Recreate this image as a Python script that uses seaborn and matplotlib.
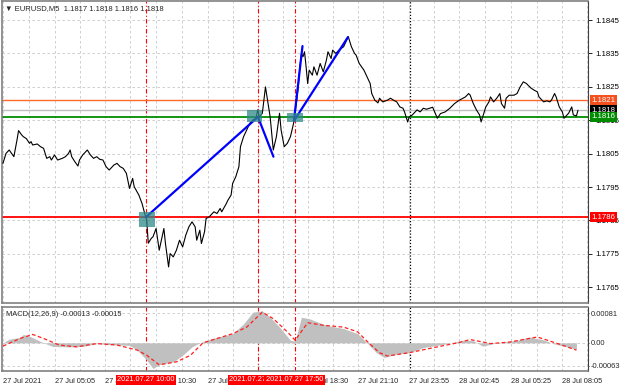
import matplotlib
matplotlib.use("Agg")
import matplotlib.pyplot as plt
from matplotlib.patches import Rectangle
from matplotlib.transforms import blended_transform_factory
import pandas as pd
import seaborn as sns

# EURUSD M5 closes (x = bar number from the left edge)
bars = [0, 2, 4, 7, 9, 10, 12, 13, 15, 17,
        18, 19, 22, 24, 26, 28, 30, 31, 33, 35,
        38, 40, 42, 43, 44, 46, 48, 49, 51, 54,
        56, 58, 60, 62, 64, 66, 68, 71, 73, 75,
        77, 79, 81, 83, 84, 87, 89, 91, 92, 93,
        95, 96, 98, 100, 103, 104, 106, 107, 109, 111,
        113, 115, 117, 119, 121, 123, 124, 126, 127, 129,
        130, 132, 135, 137, 139, 140, 143, 144, 146, 147,
        149, 151, 152, 154, 156, 158, 160, 162, 163, 164,
        166, 168, 169, 171, 173, 175, 177, 178, 180, 182,
        184, 185, 186, 188, 189, 190, 191, 192, 193, 194,
        195, 196, 198, 199, 201, 203, 205, 207, 208, 210,
        211, 213, 215, 218, 220, 221, 223, 225, 226, 228,
        231, 233, 235, 236, 238, 240, 241, 243, 246, 248,
        250, 252, 254, 256, 257, 259, 260, 262, 265, 267,
        269, 271, 273, 275, 278, 280, 283, 286, 289, 292,
        296, 298, 299, 301, 303, 305, 306, 307, 309, 311,
        312, 314, 316, 318, 319, 321, 322, 324, 327, 329,
        331, 333, 335, 336, 338, 340, 342, 343, 345, 346,
        348, 350, 351, 353, 354, 356, 358, 359, 361, 362,
        364, 365, 367, 368]
close = [1.18021, 1.18051, 1.18061, 1.18041, 1.18091, 1.18119, 1.18106, 1.18101, 1.18095, 1.18081,
         1.18086, 1.18076, 1.18079, 1.18071, 1.18066, 1.18036, 1.18041, 1.18031, 1.18046, 1.18031,
         1.18036, 1.18041, 1.18051, 1.18061, 1.18041, 1.18026, 1.18013, 1.18031, 1.18046, 1.18061,
         1.18046, 1.18036, 1.18041, 1.18033, 1.18031, 1.18011, 1.18001, 1.18016, 1.18021, 1.18011,
         1.18006, 1.17991, 1.17946, 1.17976, 1.17951, 1.17926, 1.17901, 1.17866, 1.17851, 1.17782,
         1.17797, 1.17801, 1.17826, 1.17761, 1.17826, 1.17781, 1.17711, 1.17751, 1.17741, 1.17761,
         1.17791, 1.17771, 1.17806, 1.17831, 1.17846, 1.17831, 1.17791, 1.17821, 1.17781, 1.17816,
         1.17856, 1.17861, 1.17876, 1.17871, 1.17886, 1.17876, 1.17901, 1.17911, 1.17926, 1.17961,
         1.17981, 1.18011, 1.18071, 1.18101, 1.18121, 1.18141, 1.18151, 1.18156, 1.18181, 1.18160,
         1.18171, 1.18250, 1.18220, 1.18160, 1.18061, 1.18101, 1.18171, 1.18121, 1.18071, 1.18081,
         1.18101, 1.18121, 1.18141, 1.18210, 1.18250, 1.18310, 1.18350, 1.18340, 1.18355, 1.18310,
         1.18260, 1.18300, 1.18285, 1.18310, 1.18285, 1.18320, 1.18295, 1.18330, 1.18355, 1.18335,
         1.18360, 1.18350, 1.18360, 1.18370, 1.18390, 1.18400, 1.18370, 1.18350, 1.18345, 1.18320,
         1.18300, 1.18280, 1.18260, 1.18230, 1.18210, 1.18202, 1.18216, 1.18205, 1.18210, 1.18216,
         1.18210, 1.18205, 1.18190, 1.18186, 1.18175, 1.18145, 1.18160, 1.18166, 1.18181, 1.18175,
         1.18186, 1.18183, 1.18186, 1.18189, 1.18156, 1.18170, 1.18175, 1.18186, 1.18200, 1.18210,
         1.18220, 1.18230, 1.18225, 1.18200, 1.18181, 1.18166, 1.18145, 1.18160, 1.18190, 1.18205,
         1.18220, 1.18205, 1.18216, 1.18230, 1.18200, 1.18186, 1.18216, 1.18225, 1.18225, 1.18230,
         1.18250, 1.18265, 1.18260, 1.18255, 1.18246, 1.18240, 1.18235, 1.18220, 1.18210, 1.18205,
         1.18208, 1.18205, 1.18210, 1.18230, 1.18220, 1.18190, 1.18175, 1.18156, 1.18166, 1.18171,
         1.18190, 1.18166, 1.18163, 1.18180]

# MACD(12,26,9) histogram and signal line
hist_bars = [0, 4, 11, 13, 17, 26, 32, 43, 51, 60, 68, 81, 86, 92, 96, 100, 109, 115, 121, 126,
             134, 147, 154, 160, 166, 171, 177, 184, 187, 191, 196, 207, 218, 227, 233, 239, 244,
             252, 260, 269, 282, 294, 301, 307, 316, 329, 337, 346, 352, 361, 367]
hist_vals = [0.0, 0.0001, 0.00015, 0.00023, 0.00018, 0.0, -0.0001, -0.00011, -0.0001, -0.00002,
             -0.00005, -0.00007, -0.0002, -0.00047, -0.0007, -0.0006, -0.00052, -0.00034, -0.00011, 0.0,
             0.00012, 0.00025, 0.00052, 0.00084, 0.00087, 0.0007, 0.00043, 0.00007, 0.00005, 0.0007,
             0.00066, 0.00048, 0.00039, 0.00025, 0.0, -0.00027, -0.0004, -0.00031, -0.00027, -0.00013,
             -0.00004, 0.00007, 0.00006, -0.00009, 0.0, 0.00007, 0.00016, 0.00008, -0.00002, -0.00011,
             -0.00018]
sig_bars = [0, 11, 19, 26, 36, 47, 60, 73, 86, 92, 100, 111, 120, 128, 147, 156, 166, 173, 182, 187,
            195, 205, 218, 227, 234, 241, 246, 260, 278, 291, 299, 312, 324, 342, 355, 367]
sig_vals = [-0.00009, 0.00012, 0.00023, 0.00012, -0.00006, -0.00011, -0.00002, -0.00006, -0.0002, -0.00034,
            -0.0006, -0.00052, -0.00034, 0.0, 0.00025, 0.00043, 0.00084, 0.00066, 0.0003, 0.00007,
            0.00055, 0.00048, 0.00043, 0.0003, 0.0, -0.00027, -0.00036, -0.00027, -0.00011, 0.0,
            0.00009, -0.00002, 0.00002, 0.00016, -0.00002, -0.0002]

time_ticks = [0, 33, 65, 98, 131, 163, 195, 227, 260, 292, 325, 358]
time_labels = ["27 Jul 2021", "27 Jul 05:05", "27 Jul 07:45", "27 Jul 10:30", "27 Jul 13:10",
               "27 Jul 15:50", "27 Jul 18:30", "27 Jul 21:10", "27 Jul 23:55", "28 Jul 02:45",
               "28 Jul 05:25", "28 Jul 08:05"]
price_ticks = [1.1765, 1.1775, 1.1785, 1.1795, 1.1805, 1.1815, 1.1825, 1.1835, 1.1845]

level_prices = [1.1821, 1.1818, 1.1816, 1.1786]
level_colors = ["#ff6a2a", "#c0c0c0", "#008c00", "#ff0000"]
label_colors = ["#f4511e", "#000000", "#008c00", "#ff0000"]

event_bars = [91.5, 163.2, 186.6]
event_times = ["2021.07.27 10:00", "2021.07.27 16:00", "2021.07.27 17:50"]
separator_bar = 260.5

trend_x = [[91.5, 163.2], [163.2, 173.1], [186.2, 191.7], [186.2, 220.8]]
trend_y = [[1.1786, 1.1816], [1.1816, 1.18041], [1.18148, 1.18372], [1.18148, 1.18399]]
box_x = [92.2, 161.3, 186.9]
box_y = [1.17854, 1.18163, 1.18158]
box_w = [10.2, 9.6, 10.2]
box_h = [0.00045, 0.00036, 0.00027]

sns.set_style("white")
plt.rcParams['font.family'] = ['Liberation Sans', 'DejaVu Sans']

fig = plt.figure(figsize=(6.2, 3.88), dpi=100)
ax = fig.add_axes([2 / 620, 1 - 303 / 388, 586 / 620, 302 / 388])
ax2 = fig.add_axes([2 / 620, 1 - 371 / 388, 586 / 620, 64 / 388])

grid_kw = dict(color="#c8c8c8", linestyle=(0, (3, 3)), linewidth=0.6, zorder=0)
minor = [(a + b) / 2 for a, b in zip(time_ticks[:-1], time_ticks[1:])] + [374]
for a in (ax, ax2):
    for x in time_ticks + minor:
        a.axvline(x, **grid_kw)
    a.set_xlim(-0.6, 374.4)
for p in price_ticks:
    ax.axhline(p, **grid_kw)

# price
df = pd.DataFrame({"bar": bars, "close": close})
sns.lineplot(data=df, x="bar", y="close", ax=ax, color="black", linewidth=0.8,
             estimator=None, sort=False, zorder=3)

# horizontal levels
for p, c in zip(level_prices, level_colors):
    ax.axhline(p, color=c, linewidth=1.3 if c in ("#008c00", "#ff0000") else 1.0, zorder=2)

# event lines
for a in (ax, ax2):
    for b in event_bars:
        a.axvline(b, color="red", linestyle=(0, (4, 2, 1, 2)), linewidth=0.8, zorder=1)
    a.axvline(separator_bar, color="black", linestyle=(0, (1, 1.5)), linewidth=0.9, zorder=1)

# trend lines and signal boxes
for xs, ys in zip(trend_x, trend_y):
    ax.plot(xs, ys, color="#0000ff", linewidth=1.6, zorder=4)
for x, y, w, h in zip(box_x, box_y, box_w, box_h):
    ax.add_patch(Rectangle((x - w / 2, y - h / 2), w, h, facecolor="#2f8a8a",
                           alpha=0.75, edgecolor="none", zorder=5))

ax.set_ylim(1.17603, 1.18507)
ax.yaxis.tick_right()
ax.set_yticks(price_ticks)
ax.set_yticklabels([f"{p:.4f}" for p in price_ticks])
ax.set_xticks(time_ticks)
ax.tick_params(axis="x", length=0, labelbottom=False)
ax.tick_params(axis="y", length=3, width=0.6, labelsize=5.6, pad=2, colors="black")
ax.set_xlabel("")
ax.set_ylabel("")

tr = blended_transform_factory(ax.transAxes, ax.transData)
for p, c in zip(level_prices, label_colors):
    ax.text(1.006, p, f"{p:.4f}", transform=tr, color="white", fontsize=5.6, va="center",
            ha="left", clip_on=False, zorder=10,
            bbox=dict(boxstyle="square,pad=0.22", fc=c, ec="none"))

ax.text(0.005, 0.975, "▼ EURUSD,M5  1.1817 1.1818 1.1816 1.1818", transform=ax.transAxes,
        fontsize=5.5, va="center", ha="left")

# MACD panel
ax2.fill_between(hist_bars, 0, hist_vals, color="#c0c0c0", linewidth=0, zorder=2)
sdf = pd.DataFrame({"bar": sig_bars, "signal": sig_vals})
sns.lineplot(data=sdf, x="bar", y="signal", ax=ax2, color="#ff2020", linewidth=0.9,
             linestyle=(0, (3, 2)), estimator=None, sort=False, zorder=3)
for v in (0.00081, 0.0, -0.00063):
    ax2.axhline(v, **grid_kw)
ax2.set_ylim(-0.00077, 0.00098)
ax2.yaxis.tick_right()
ax2.set_yticks([0.00081, 0.0, -0.00063])
ax2.set_yticklabels(["0.00081", "0.00", "-0.00063"])
ax2.tick_params(axis="y", length=1, width=0.6, labelsize=5.4, pad=1)
ax2.set_xticks(time_ticks)
ax2.set_xticklabels(time_labels, ha="left")
ax2.tick_params(axis="x", length=2, width=0.6, labelsize=5.3, pad=3)
ax2.set_xlabel("")
ax2.set_ylabel("")
ax2.text(0.007, 0.89, "MACD(12,26,9) -0.00013 -0.00015", transform=ax2.transAxes,
         fontsize=5.4, va="center", ha="left")

tr2 = blended_transform_factory(ax2.transData, ax2.transAxes)
for b, t in zip(event_bars, event_times):
    ax2.text(b, -0.135, t, transform=tr2, color="white", fontsize=5.3, va="center", ha="center",
             clip_on=False, zorder=10,
             bbox=dict(boxstyle="square,pad=0.2", fc="#ff0000", ec="none"))

for a in (ax, ax2):
    for s in ("left", "top", "bottom"):
        a.spines[s].set_color("#808080")
        a.spines[s].set_linewidth(1.2)
    a.spines["right"].set_color("#404040")
    a.spines["right"].set_linewidth(0.8)

fig.savefig("out.png", dpi=100, facecolor="white")
